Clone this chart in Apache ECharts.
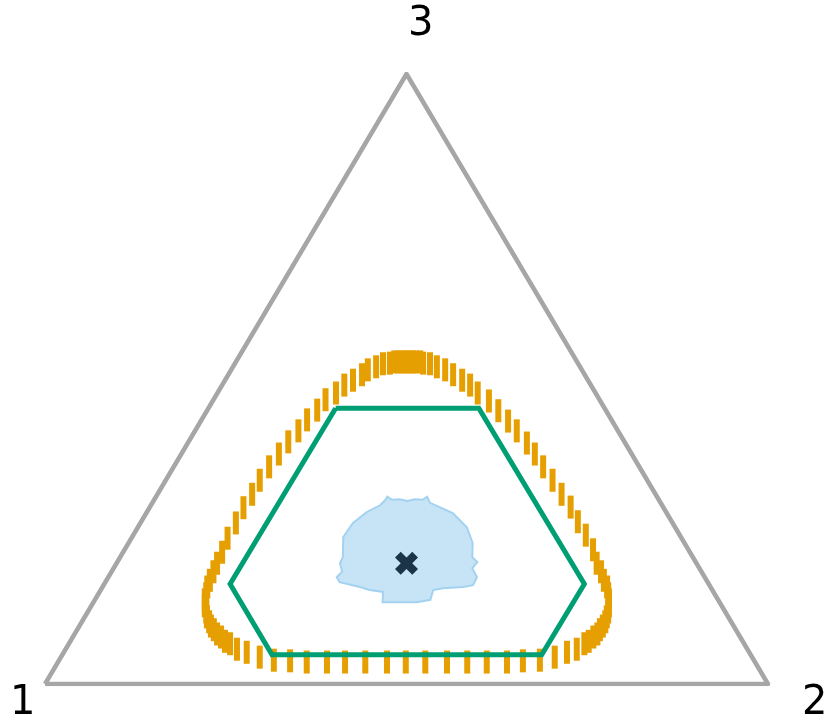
<!DOCTYPE html>
<html>
<head>
<meta charset="utf-8">
<script src="https://cdn.jsdelivr.net/npm/echarts@6/dist/echarts.min.js"></script>
<style>
  html, body { margin: 0; padding: 0; background: #fff; }
  #chart { width: 830px; height: 726px; }
</style>
</head>
<body>
<div id="chart"></div>
<script>
// ternary shares in percent: share of component 2 and component 3 (component 1 = rest)
const vertexLabels = ['1', '2', '3'];
const cornerShare2 = [0, 100, 0];
const cornerShare3 = [0, 0, 100];

// hexagon (green)
const hexShare2 = [17.6, 37.4, 66.4, 66.3, 29.0, 17.4];
const hexShare3 = [45.2, 45.2, 16.4, 4.8, 4.8, 16.4];

// light blue region
const blobShare2 = [40.0, 39.2, 37.2, 35.6, 32.4, 31.6, 31.9, 30.9, 30.8, 29.2, 29.4, 30.4,
  31.7, 32.0, 32.0, 32.9, 33.9, 35.1, 36.0, 37.1, 37.5, 38.4, 42.4, 45.5, 47.6, 48.7,
  49.8, 49.6, 51.0, 51.1, 49.9, 47.2, 46.0, 46.4, 44.7];
const blobShare3 = [13.4, 15.1, 15.4, 15.9, 16.7, 17.5, 18.4, 19.8, 20.8, 24.1, 26.4, 28.2,
  29.3, 30.2, 30.7, 30.2, 30.3, 30.0, 30.3, 30.2, 30.7, 29.7, 28.0, 25.7, 23.1, 20.8,
  20.0, 19.0, 17.5, 16.2, 15.9, 15.7, 15.4, 13.8, 13.4];

// center point
const centerShare2 = [40.1];
const centerShare3 = [19.8];

// orange error-bar band
const bandShare2 = [23.7, 23.3, 22.8, 22.4, 21.9, 21.4, 20.5, 19.8, 18.9, 18.5, 17.7, 16.9,
  16.4, 15.5, 15.2, 14.6, 14.3, 13.8, 13.5, 13.2, 13.0, 13.1, 13.0, 13.2, 13.3, 13.7,
  13.9, 14.1, 14.3, 14.5, 14.9, 15.2, 15.7, 16.4, 16.9, 17.6, 18.2, 18.9, 19.7, 20.5,
  21.4, 22.3, 23.7, 25.3, 27.5, 29.7, 32.0, 34.4, 37.2, 39.7, 42.5, 45.5, 48.1, 50.8,
  53.8, 56.6, 59.3, 62.1, 64.2, 66.5, 68.3, 69.6, 70.7, 71.3, 71.7, 72.0, 72.3, 72.3,
  72.4, 72.4, 72.2, 72.0, 71.6, 71.1, 70.5, 69.8, 68.8, 67.7, 66.4, 64.8, 62.6, 60.4,
  58.2, 55.9, 53.5, 51.1, 48.9, 46.9, 44.5, 42.5, 40.3, 38.2, 36.0, 34.3, 32.8, 31.1,
  29.6, 28.2, 27.0, 26.0, 25.5, 24.9, 24.5, 24.1];
const bandShare3 = [52.8, 52.8, 52.8, 52.8, 52.8, 52.6, 52.5, 52.0, 51.5, 50.7, 49.8, 49.0,
  47.7, 46.6, 44.9, 43.3, 41.5, 39.7, 37.7, 35.6, 33.4, 31.1, 28.9, 26.4, 23.9, 21.6,
  19.8, 18.4, 17.0, 15.9, 14.8, 13.8, 12.8, 11.8, 11.0, 10.2, 9.5, 8.9, 8.2, 7.7,
  7.0, 6.6, 5.7, 5.2, 4.4, 3.9, 3.8, 3.6, 3.6, 3.6, 3.6, 3.6, 3.6, 3.6,
  3.6, 3.6, 3.6, 3.6, 3.8, 3.9, 4.4, 5.2, 5.7, 6.6, 7.0, 7.7, 8.2, 8.9,
  9.5, 10.2, 11.0, 11.8, 12.8, 13.8, 14.8, 15.9, 17.0, 18.4, 19.8, 22.0, 24.4, 26.6,
  29.0, 31.1, 33.4, 35.6, 37.7, 39.5, 41.5, 43.1, 44.8, 46.4, 47.7, 49.0, 49.8, 50.7,
  51.5, 52.0, 52.5, 52.6, 52.8, 52.8, 52.8, 52.8];

// ternary -> plane (x along base, y = height)
function project(s2, s3) {
  return s2.map((b, i) => [b + s3[i] / 2, s3[i]]);
}
function closed(pts) {
  return pts.concat([pts[0]]);
}

const chart = echarts.init(document.getElementById('chart'));

const blobPts = project(blobShare2, blobShare3);
const labelFont = '40px "DejaVu Sans"';

const option = {
  animation: false,
  grid: { left: 45, top: 74, width: 723, height: 610 },
  xAxis: { type: 'value', min: 0, max: 100, show: false },
  yAxis: { type: 'value', min: 0, max: 100, show: false },
  graphic: [
    { type: 'text', left: 10, top: 684, style: { text: vertexLabels[0], font: labelFont, fill: '#000' } },
    { type: 'text', left: 802, top: 684, style: { text: vertexLabels[1], font: labelFont, fill: '#000' } },
    { type: 'text', left: 408, top: 5, style: { text: vertexLabels[2], font: labelFont, fill: '#000' } }
  ],
  series: [
    {
      // triangle frame
      type: 'line',
      data: closed(project(cornerShare2, cornerShare3)),
      symbol: 'none',
      lineStyle: { color: '#a6a6a6', width: 4.5, join: 'round' },
      z: 1
    },
    {
      // orange bars
      type: 'scatter',
      data: project(bandShare2, bandShare3),
      symbol: 'rect',
      symbolSize: [6, 23],
      itemStyle: { color: '#e69f00', opacity: 1 },
      z: 2
    },
    {
      // blue region
      type: 'custom',
      data: [0],
      renderItem: function (params, api) {
        const points = blobPts.map(p => api.coord(p));
        return {
          type: 'polygon',
          shape: { points: points },
          style: { fill: '#c6e4f6', stroke: '#a3d2f0', lineWidth: 2 }
        };
      },
      z: 3
    },
    {
      // hexagon
      type: 'line',
      data: closed(project(hexShare2, hexShare3)),
      symbol: 'none',
      lineStyle: { color: '#009e73', width: 5, join: 'miter' },
      z: 4
    },
    {
      // center mark
      type: 'scatter',
      data: project(centerShare2, centerShare3),
      symbol: 'path://M0,2.5L2.5,0L5,2.5L7.5,0L10,2.5L7.5,5L10,7.5L7.5,10L5,7.5L2.5,10L0,7.5L2.5,5Z',
      symbolSize: 23,
      itemStyle: { color: '#1b3447', opacity: 1 },
      z: 5
    }
  ]
};

chart.setOption(option);
</script>
</body>
</html>
